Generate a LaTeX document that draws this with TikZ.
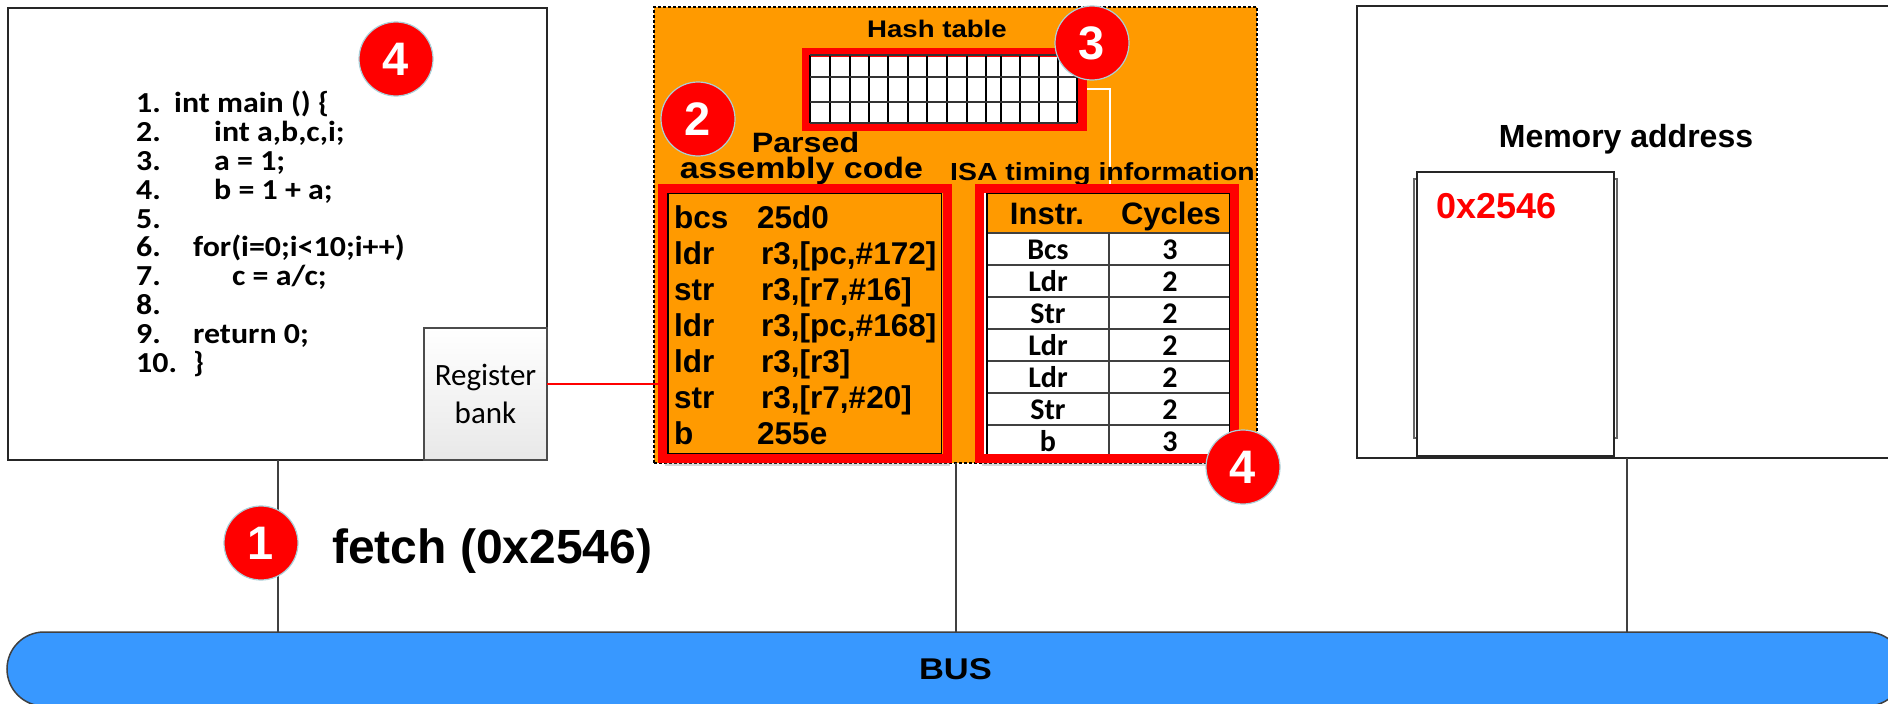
\documentclass[tikz,border=0pt]{standalone}
\usepackage{fontspec}
\setmainfont{Liberation Sans}
\newfontfamily\calfont{Carlito}
\newfontfamily\calwide{Carlito}[FakeStretch=1.1]
\newfontfamily\widefont{Liberation Sans}[FakeStretch=1.15]
\usetikzlibrary{shadows}
\newcommand\fsz[1]{\fontsize{#1pt}{#1pt}\selectfont}
\definecolor{panelorange}{HTML}{FF9A00}
\definecolor{busblue}{HTML}{3898FF}
\definecolor{badgeline}{HTML}{A9CFD8}
\begin{document}
\begin{tikzpicture}[x=1pt,y=-1pt,
  blk/.style={draw=black!85, line width=2pt, fill=white, inner sep=0pt, outer sep=0pt},
  badge/.style={circle, fill=red, draw=badgeline, line width=1.2pt, minimum size=74pt, inner sep=0pt, outer sep=0pt, text=white, font=\fsz{47}\bfseries},
  lnk/.style={draw=black!75, line width=2pt},
  codetxt/.style={anchor=base west, inner sep=0pt, font=\calwide\bfseries\fsz{29}},
  asmtxt/.style={anchor=base west, inner sep=0pt, font=\bfseries\fsz{31.5}},
  celltxt/.style={anchor=base, inner sep=0pt, font=\calfont\bfseries\fsz{30}},
  headtxt/.style={anchor=base, inner sep=0pt, font=\bfseries\fsz{31}},
  paneltxt/.style={anchor=base, inner sep=0pt, font=\widefont\bfseries\fsz{28}},
  redframe/.style={draw=red, line width=9pt, inner sep=0pt, outer sep=0pt, anchor=north west}
]
\useasboundingbox (0,0) rectangle (1888,704);
\clip (0,0) rectangle (1888,704);
\fill[white] (0,0) rectangle (1888,704);

% ---------- bus ----------
\node[draw=black!75, line width=1.5pt, fill=busblue, rounded corners=37pt, anchor=north west,
      minimum width=1897pt, minimum height=74pt, inner sep=0pt, outer sep=0pt,
      font=\widefont\bfseries\fsz{30}] (bus) at (7,632) {BUS};

% ---------- CPU box ----------
\node[blk, anchor=north west, minimum width=539pt, minimum height=452pt] (cpu) at (8,8) {};
\node[draw=black!70, line width=2pt, top color=white, bottom color=black!9, anchor=north west,
      minimum width=123pt, minimum height=132pt, inner sep=0pt, outer sep=0pt, align=center,
      font=\calfont\fontsize{31pt}{38pt}\selectfont] (reg) at (424,328) {Register\\bank};

\node[codetxt] (n1) at (136,112) {1.};
\node[codetxt] (n2) at (136,141) {2.};
\node[codetxt] (n3) at (136,170) {3.};
\node[codetxt] (n4) at (136,199) {4.};
\node[codetxt] (n5) at (136,228) {5.};
\node[codetxt] (n6) at (136,256) {6.};
\node[codetxt] (n7) at (136,285) {7.};
\node[codetxt] (n8) at (136,314) {8.};
\node[codetxt] (n9) at (136,343) {9.};
\node[codetxt] (n10) at (136,372) {10.};
\node[codetxt] (c1) at (174,112) {int main () \{};
\node[codetxt] (c2) at (214,141) {int a,b,c,i;};
\node[codetxt] (c3) at (214,170) {a = 1;};
\node[codetxt] (c4) at (214,199) {b = 1 + a;};
\node[codetxt] (c6) at (193,256) {for(i=0;i<10;i++)};
\node[codetxt] (c7) at (232,285) {c = a/c;};
\node[codetxt] (c9) at (193,343) {return 0;};
\node[codetxt] (c10) at (193,372) {\}};

% ---------- orange panel ----------
\node[draw=black, line width=1.5pt, dash pattern=on 3pt off 2pt, fill=panelorange, anchor=north west,
      minimum width=603pt, minimum height=456pt, inner sep=0pt, outer sep=0pt] (panel) at (654,7) {};

% ---------- memory ----------
\node[blk, anchor=north west, minimum width=560pt, minimum height=452pt] (mem) at (1357,6) {};
\draw[black!60, line width=1.5pt, fill=white] (1414,179) rectangle (1617,438);
\node[draw=black!85, line width=1.5pt, fill=white, anchor=north west, minimum width=197pt,
      minimum height=284pt, inner sep=0pt, outer sep=0pt] (cell) at (1417,172) {};
\node[anchor=base, inner sep=0pt, font=\bfseries\fsz{32}] (memlbl) at (1626,147) {Memory address};
\node[anchor=base west, inner sep=0pt, text=red, font=\bfseries\fsz{36}] (addr) at (1436,218) {0x2546};

% ---------- connectors ----------
\draw[lnk] ([xshift=270pt]cpu.south west) -- ([xshift=270pt]cpu.south west |- bus.north);
\draw[lnk] ([xshift=302pt]panel.south west) -- ([xshift=302pt]panel.south west |- bus.north);
\draw[lnk] ([xshift=270pt]mem.south west) -- ([xshift=270pt]mem.south west |- bus.north);
\draw[red, line width=2pt] ([yshift=10pt]reg.east) -- ([yshift=10pt]reg.east -| 662,0) coordinate (regend);

% ---------- hash table ----------
\node[redframe, fill=white, minimum width=276pt, minimum height=74pt] (hashbg) at (806,52) {};
\draw[white, line width=2.5pt] (hashbg.east) -| (1110,184) coordinate (hashend);
\node[redframe, fill=white, minimum width=276pt, minimum height=74pt] (hash) at (806,52) {};
\foreach \xx in {810,830,850,869,888,908,927,947,967,1001,1020,1039,1058,1077}
  \draw[black, line width=1.2pt] (\xx,55) -- (\xx,123);
\draw[black, line width=2.4pt] (986,55) -- (986,123);
\foreach \yy in {55,77,102,123}
  \draw[black!80, line width=1.2pt] (810,\yy) -- (1077,\yy);
\node[paneltxt, font=\widefont\bfseries\fsz{24}] (hashlbl) at (937,37) {Hash table};

% ---------- labels ----------
\node[paneltxt] (parsed) at (805.5,152) {Parsed};
\node[paneltxt, font=\widefont\bfseries\fsz{29.5}] (asmlbl) at (801.5,178) {assembly code};
\node[anchor=base west, inner sep=0pt, font=\widefont\bfseries\fsz{24.7}] (isalbl) at (950,180) {ISA timing information};

% ---------- assembly code ----------
\node[redframe, fill=panelorange, minimum width=285pt, minimum height=270pt,
      drop shadow={opacity=0.3, shadow xshift=2pt, shadow yshift=-7pt}] (asm) at (662.5,188.5) {};
\draw[black, line width=1.5pt] (668,193.5) rectangle (941.5,454);
\node[redframe, fill=none, minimum width=285pt, minimum height=270pt] (asmframe) at (662.5,188.5) {};
\node[asmtxt] (m1) at (674,228) {bcs};
\node[asmtxt] (m2) at (674,264) {ldr};
\node[asmtxt] (m3) at (674,300) {str};
\node[asmtxt] (m4) at (674,336) {ldr};
\node[asmtxt] (m5) at (674,372) {ldr};
\node[asmtxt] (m6) at (674,408) {str};
\node[asmtxt] (m7) at (674,444) {b};
\node[asmtxt] (o1) at (757,228) {25d0};
\node[asmtxt] (o2) at (761,264) {r3,[pc,\#172]};
\node[asmtxt] (o3) at (761,300) {r3,[r7,\#16]};
\node[asmtxt] (o4) at (761,336) {r3,[pc,\#168]};
\node[asmtxt] (o5) at (761,372) {r3,[r3]};
\node[asmtxt] (o6) at (761,408) {r3,[r7,\#20]};
\node[asmtxt] (o7) at (757,444) {255e};

% ---------- ISA table ----------
\node[redframe, fill=white, minimum width=255pt, minimum height=270pt,
      drop shadow={opacity=0.3, shadow xshift=2pt, shadow yshift=-7pt}] (isa) at (979.5,188.5) {};
\fill[panelorange] (987,193) rectangle (1230,233);
\foreach \yy in {233,265,297,329,361,393,425}
  \draw[black!75, line width=1.3pt] (987,\yy) -- (1230,\yy);
\draw[black!75, line width=1.3pt] (1109,233) -- (1109,457);
\draw[black, line width=1.5pt] (987,193) rectangle (1230,457);
\node[redframe, fill=none, minimum width=255pt, minimum height=270pt] (isaframe) at (979.5,188.5) {};
\node[headtxt] (hi) at (1047,224) {Instr.};
\node[headtxt] (hc) at (1171,224) {Cycles};
\node[celltxt] (r1a) at (1048,259) {Bcs};
\node[celltxt] (r2a) at (1048,291) {Ldr};
\node[celltxt] (r3a) at (1048,323) {Str};
\node[celltxt] (r4a) at (1048,355) {Ldr};
\node[celltxt] (r5a) at (1048,387) {Ldr};
\node[celltxt] (r6a) at (1048,419) {Str};
\node[celltxt] (r7a) at (1048,451) {b};
\node[celltxt] (r1b) at (1170,259) {3};
\node[celltxt] (r2b) at (1170,291) {2};
\node[celltxt] (r3b) at (1170,323) {2};
\node[celltxt] (r4b) at (1170,355) {2};
\node[celltxt] (r5b) at (1170,387) {2};
\node[celltxt] (r6b) at (1170,419) {2};
\node[celltxt] (r7b) at (1170,451) {3};

% ---------- fetch label ----------
\node[anchor=base west, inner sep=0pt, font=\bfseries\fsz{48}] (fetch) at (332,563) {fetch (0x2546)};

% ---------- badges ----------
\node[badge] (b4a) at (396,59) {4};
\node[badge] (b2) at (698,119) {2};
\node[badge] (b3) at (1092,43) {3};
\node[badge] (b4b) at (1243,467) {4};
\node[badge] (b1) at (261,543) {1};
\end{tikzpicture}
\end{document}
